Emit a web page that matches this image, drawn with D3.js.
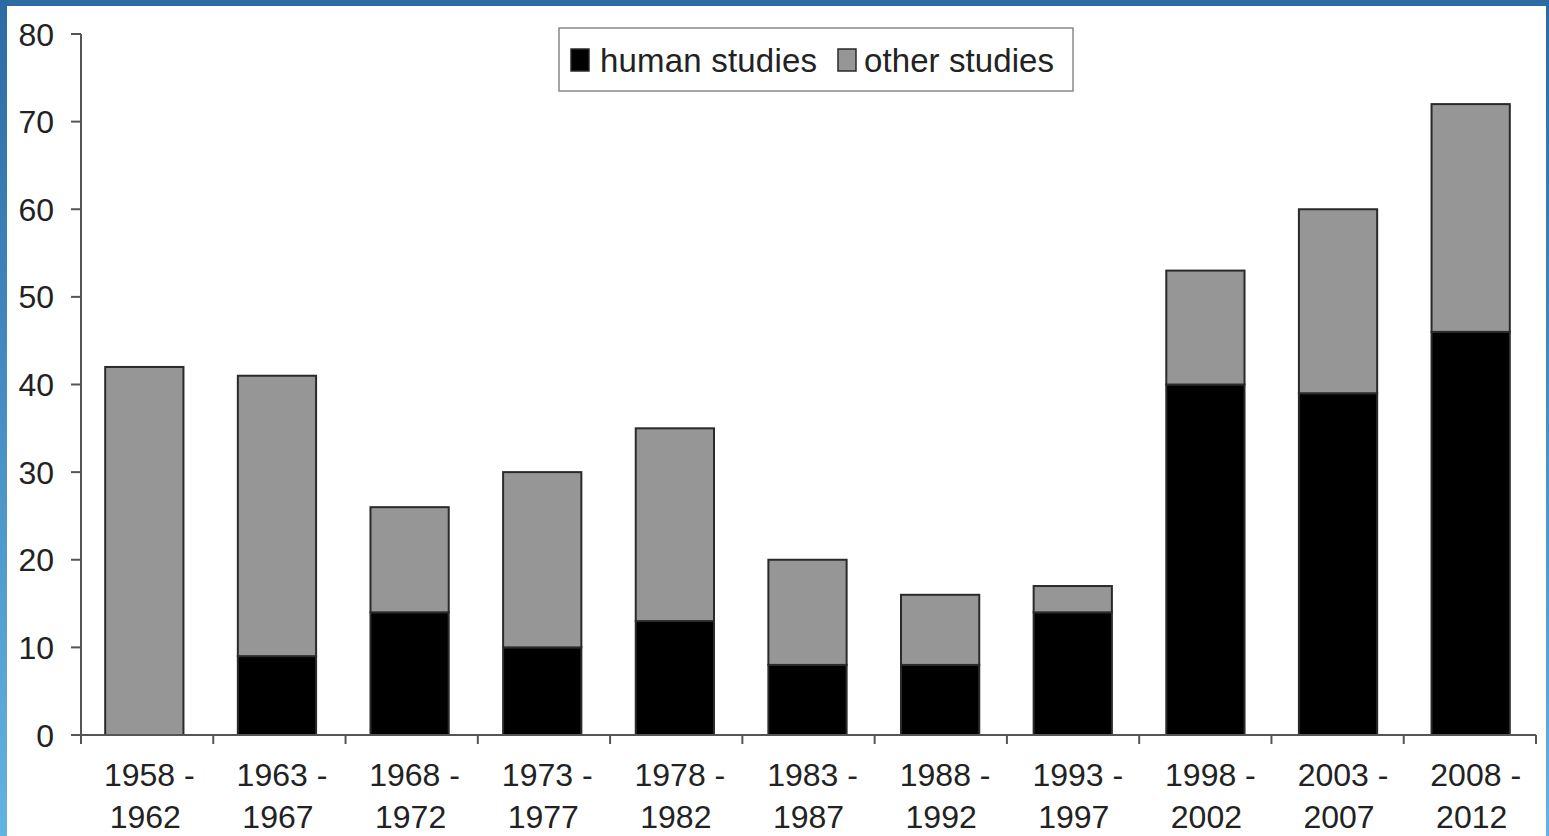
<!DOCTYPE html>
<html><head><meta charset="utf-8">
<script src="https://cdnjs.cloudflare.com/ajax/libs/d3/7.8.5/d3.min.js"></script>
<style>html,body{margin:0;padding:0;background:#fff;overflow:hidden}</style>
</head><body>
<svg id="chart" width="1549" height="836"></svg>
<script>
const categories = [["1958 -","1962"],["1963 -","1967"],["1968 -","1972"],["1973 -","1977"],["1978 -","1982"],["1983 -","1987"],["1988 -","1992"],["1993 -","1997"],["1998 -","2002"],["2003 -","2007"],["2008 -","2012"]];
const humanStudies = [0, 9, 14, 10, 13, 8, 8, 14, 40, 39, 46];
const otherStudies = [42, 32, 12, 20, 22, 12, 8, 3, 13, 21, 26];
const yTicks = [0,10,20,30,40,50,60,70,80];
const seriesNames = ["human studies","other studies"];
const seriesColors = ["#000000","#969696"];

const svg = d3.select("#chart");
const W = 1549, H = 836;
const font = "'Liberation Sans', Arial, sans-serif";

// frame
const defs = svg.append("defs");
const lg = defs.append("linearGradient").attr("id","lg").attr("x1",0).attr("y1",0).attr("x2",0).attr("y2",1);
lg.append("stop").attr("offset","0%").attr("stop-color","#2c6aa3");
lg.append("stop").attr("offset","100%").attr("stop-color","#62b4e2");
svg.append("rect").attr("x",0).attr("y",0).attr("width",W).attr("height",6).attr("fill","#2d6ba4");
svg.append("rect").attr("x",0).attr("y",0).attr("width",7).attr("height",H).attr("fill","url(#lg)");
svg.append("rect").attr("x",W-3).attr("y",0).attr("width",3).attr("height",H).attr("fill","url(#lg)");

const x0 = 81, x1 = 1536;
const x = d3.scaleBand().domain(d3.range(categories.length)).range([x0, x1]).paddingInner(0.41).paddingOuter(0.19);
const xb = d3.scaleLinear().domain([0, categories.length]).range([x0, x1]);
const y = d3.scaleLinear().domain([0, 80]).range([735, 34]);

// bars
const stacked = d3.stack().keys([0,1]).value((d,k)=> k===0 ? humanStudies[d] : otherStudies[d])(d3.range(categories.length));
stacked.forEach((s, si) => {
  svg.append("g").selectAll("rect").data(s).join("rect")
    .attr("x", (d,i)=> x(i) - 1)
    .attr("width", x.bandwidth())
    .attr("y", d=> y(d[1]))
    .attr("height", d=> y(d[0]) - y(d[1]))
    .attr("fill", seriesColors[si])
    .attr("stroke", "#2a2a2a").attr("stroke-width", 2)
    .attr("display", d=> d[1]-d[0] > 0 ? null : "none");
});

// y axis
const ya = svg.append("g");
ya.append("line").attr("x1",x0).attr("x2",x0).attr("y1",y(80)).attr("y2",y(0)).attr("stroke","#555").attr("stroke-width",2);
ya.selectAll("line.t").data(yTicks).join("line").attr("class","t")
  .attr("x1",71).attr("x2",x0).attr("y1",d=>y(d)).attr("y2",d=>y(d)).attr("stroke","#555").attr("stroke-width",2);
ya.selectAll("text").data(yTicks).join("text")
  .attr("x",54).attr("y",d=>y(d)).attr("dy","0.36em").attr("text-anchor","end")
  .attr("font-family",font).attr("font-size",32).attr("fill","#222").text(d=>d);

// x axis
const xa = svg.append("g");
xa.append("line").attr("x1",x0).attr("x2",x1).attr("y1",y(0)).attr("y2",y(0)).attr("stroke","#555").attr("stroke-width",2);
xa.selectAll("line.t").data(d3.range(categories.length+1)).join("line").attr("class","t")
  .attr("x1",d=>xb(d)).attr("x2",d=>xb(d)).attr("y1",y(0)).attr("y2",y(0)+9).attr("stroke","#555").attr("stroke-width",2);
const lbl = xa.selectAll("text").data(categories).join("text")
  .attr("text-anchor","middle")
  .attr("font-family",font).attr("font-size",32).attr("fill","#222");
lbl.append("tspan").attr("x",(d,i)=> x(i)+x.bandwidth()/2 + 4).attr("y",786).text(d=>d[0]);
lbl.append("tspan").attr("x",(d,i)=> x(i)+x.bandwidth()/2).attr("y",828).text(d=>d[1]);

// legend
const leg = svg.append("g");
leg.append("rect").attr("x",559).attr("y",28).attr("width",514).attr("height",63).attr("fill","#fff").attr("stroke","#888").attr("stroke-width",1.5);
const items = [{x:571, tx:600},{x:838, tx:864}];
items.forEach((it, i) => {
  leg.append("rect").attr("x",it.x).attr("y",49).attr("width",18).attr("height",22)
    .attr("fill",seriesColors[i]).attr("stroke","#2a2a2a").attr("stroke-width",1.5);
  leg.append("text").attr("x",it.tx).attr("y",60).attr("dy","0.36em")
    .attr("font-family",font).attr("font-size",33).attr("textLength", i===0 ? 217 : 190).attr("fill","#222").text(seriesNames[i]);
});
</script>
</body></html>
